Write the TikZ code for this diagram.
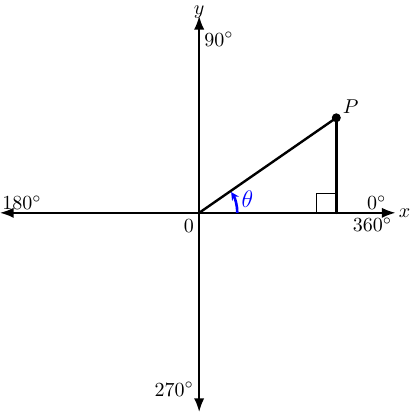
\documentclass[tikz,border=0pt]{standalone}
\usepackage{tikz}
\usetikzlibrary{
	positioning,
	arrows.meta
}
\tikzset{
	axisline/.style={
		<->,
		>=Latex,
		line width=0.85pt
	},
	sideline/.style={
		line width=1.2pt,
		line cap=round
	},
	anglearc/.style={
		-{Stealth[length=4pt,width=4pt]},
		blue,
		line width=1.3pt
	},
	degnode/.style={
		inner sep=1pt,
		font=\normalsize
	}
}

\begin{document}
\begin{tikzpicture}

	% Bounding box
	\useasboundingbox (-3.5,-3.5) rectangle (3.72,3.74);

	% Points
	\coordinate (origin) at (0,0);
	\coordinate (foot) at (2.41,0);
	\coordinate (xleft) at (-3.5,0);
	\coordinate (xright) at (3.45,0);
	\coordinate (ydown) at (0,-3.5);
	\coordinate (yup) at (0,3.46);

	% Axes
	\draw[axisline] (xleft) -- (xright);
	\draw[axisline] (ydown) -- (yup);
	\node[right=1pt of xright, inner sep=0.5pt] (xlab) {$x$};
	\node[above=-1.5pt of yup, inner sep=0pt] (ylab) {$y$};

	% Degree labels
	\node[degnode, anchor=south west] (d180) at (-3.5,0.02) {$180^\circ$};
	\node[degnode, anchor=south east] (d0) at (3.33,0.02) {$0^\circ$};
	\node[degnode, anchor=north east] (d360) at (3.43,-0.05) {$360^\circ$};
	\node[degnode, anchor=west] (d90) at (0.05,3.05) {$90^\circ$};
	\node[degnode, anchor=east] (d270) at (-0.05,-3.1) {$270^\circ$};
	\node[degnode, anchor=north east] (zero) at (-0.05,-0.08) {$0$};

	% Triangle
	\node[circle, fill, inner sep=0pt, minimum size=4.5pt] (P) at (2.41,1.67) {};
	\node[above right=-3pt and -2pt of P] (Plab) {$P$};
	\draw[sideline] (origin) -- (P.center);
	\draw[sideline] (P.center) -- (foot);
	\draw[sideline] (origin) -- (foot);

	% Right angle mark
	\draw[line width=0.4pt] (foot) ++(-0.35,0) |- ++(0.35,0.35);

	% Angle theta
	\draw[anglearc] (0.67,0) arc[start angle=0, end angle=33, radius=0.67];
	\node[blue, font=\large] (theta) at (0.85,0.24) {$\theta$};

\end{tikzpicture}
\end{document}
